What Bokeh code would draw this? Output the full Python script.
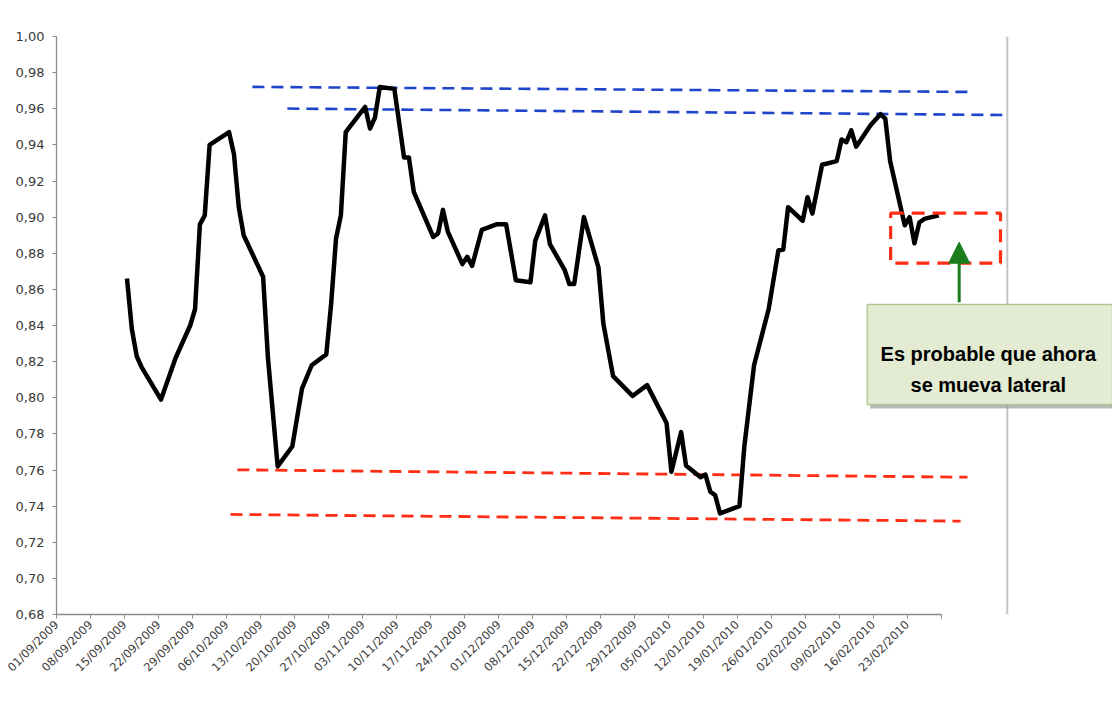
import math
import pandas as pd
from bokeh.plotting import figure
from bokeh.models import Range1d, FixedTicker, CustomJSTickFormatter, Span, Arrow, NormalHead, Label
from bokeh.embed import file_html
from bokeh.resources import INLINE

# ---------------- data ----------------
dates = [
    "15/09/2009", "16/09/2009", "17/09/2009", "18/09/2009", "22/09/2009", "25/09/2009",
    "28/09/2009", "29/09/2009", "30/09/2009", "01/10/2009", "02/10/2009", "06/10/2009",
    "07/10/2009", "08/10/2009", "09/10/2009", "13/10/2009", "14/10/2009", "16/10/2009",
    "19/10/2009", "21/10/2009", "23/10/2009", "26/10/2009", "27/10/2009", "28/10/2009",
    "29/10/2009", "30/10/2009", "03/11/2009", "04/11/2009", "05/11/2009", "06/11/2009",
    "09/11/2009", "11/11/2009", "12/11/2009", "13/11/2009", "17/11/2009", "18/11/2009",
    "19/11/2009", "20/11/2009", "23/11/2009", "24/11/2009", "25/11/2009", "27/11/2009",
    "30/11/2009", "02/12/2009", "04/12/2009", "07/12/2009", "08/12/2009", "10/12/2009",
    "11/12/2009", "14/12/2009", "15/12/2009", "16/12/2009", "18/12/2009", "21/12/2009",
    "22/12/2009", "24/12/2009", "28/12/2009", "31/12/2009", "04/01/2010", "05/01/2010",
    "07/01/2010", "08/01/2010", "11/01/2010", "12/01/2010", "13/01/2010", "14/01/2010",
    "15/01/2010", "19/01/2010", "20/01/2010", "22/01/2010", "25/01/2010", "27/01/2010",
    "28/01/2010", "29/01/2010", "01/02/2010", "02/02/2010", "03/02/2010", "05/02/2010",
    "08/02/2010", "09/02/2010", "10/02/2010", "11/02/2010", "12/02/2010", "15/02/2010",
    "17/02/2010", "18/02/2010", "19/02/2010", "22/02/2010", "23/02/2010", "24/02/2010",
    "25/02/2010", "26/02/2010", "01/03/2010",
]
values = [
    0.866, 0.838, 0.823, 0.817, 0.799, 0.822,
    0.840, 0.849, 0.896, 0.901, 0.940, 0.947,
    0.935, 0.9055, 0.890, 0.867, 0.822, 0.762,
    0.773, 0.805, 0.818, 0.824, 0.852, 0.888,
    0.901, 0.947, 0.961, 0.949, 0.955, 0.972,
    0.971, 0.933, 0.933, 0.914, 0.889, 0.891,
    0.904, 0.892, 0.874, 0.878, 0.873, 0.893,
    0.896, 0.896, 0.865, 0.864, 0.887, 0.901,
    0.885, 0.871, 0.863, 0.863, 0.900, 0.872,
    0.841, 0.812, 0.801, 0.807, 0.786, 0.759,
    0.781, 0.7625, 0.756, 0.7575, 0.748, 0.746,
    0.736, 0.740, 0.773, 0.818, 0.849, 0.8815,
    0.882, 0.9055, 0.898, 0.911, 0.902, 0.929,
    0.931, 0.943, 0.9415, 0.948, 0.939, 0.951,
    0.957, 0.9545, 0.931, 0.8955, 0.900, 0.8855,
    0.897, 0.899, 0.901,
]
tick_labels = [
    "01/09/2009", "08/09/2009", "15/09/2009", "22/09/2009", "29/09/2009", "06/10/2009",
    "13/10/2009", "20/10/2009", "27/10/2009", "03/11/2009", "10/11/2009", "17/11/2009",
    "24/11/2009", "01/12/2009", "08/12/2009", "15/12/2009", "22/12/2009", "29/12/2009",
    "05/01/2010", "12/01/2010", "19/01/2010", "26/01/2010", "02/02/2010", "09/02/2010",
    "16/02/2010", "23/02/2010",
]
axis_end_date = "02/03/2010"
y_min, y_max, y_step = 0.68, 1.00, 0.02

# ---------------- helpers ----------------
origin = pd.to_datetime(tick_labels[0], dayfirst=True)


def day(s):
    return (pd.to_datetime(s, dayfirst=True) - origin).days


xs = [day(d) + 0.5 for d in dates]
tick_pos = [day(t) for t in tick_labels] + [day(axis_end_date)]
overrides = {day(t): t for t in tick_labels}
overrides[day(axis_end_date)] = ""
yticks = [round(y_min + i * y_step, 2) for i in range(int(round((y_max - y_min) / y_step)) + 1)]

# ---------------- figure ----------------
W, H = 1112, 700
LEFT, TOP, FRAME_H = 56, 36, 578
px_per_day = (940.7 - 56.0) / day(axis_end_date)
frame_w = W - LEFT
x_end = frame_w / px_per_day
p = figure(width=W, height=H,
           x_range=Range1d(0, x_end),
           y_range=Range1d(y_min, y_max),
           output_backend="svg", toolbar_location=None,
           min_border_left=LEFT, min_border_right=0,
           min_border_top=TOP, min_border_bottom=H - TOP - FRAME_H)
p.outline_line_color = None
p.grid.visible = False
p.background_fill_color = "white"
p.border_fill_color = "white"

axis_col = "#8a8a8a"
lab_col = "#3a3a3a"
p.xaxis.ticker = FixedTicker(ticks=tick_pos)
p.xaxis.major_label_overrides = overrides
p.xaxis.bounds = (0, day(axis_end_date))
p.xaxis.major_label_orientation = math.pi / 4
p.xaxis.minor_tick_line_color = None
p.yaxis.ticker = FixedTicker(ticks=yticks)
p.yaxis.formatter = CustomJSTickFormatter(code="return tick.toFixed(2).replace('.', ',');")
p.yaxis.minor_tick_line_color = None
for ax in (p.xaxis, p.yaxis):
    ax.axis_line_color = axis_col
    ax.axis_line_width = 1.3
    ax.major_tick_line_color = axis_col
    ax.major_tick_in = 0
    ax.major_tick_out = 4
    ax.major_label_text_color = lab_col
    ax.major_label_text_font = "DejaVu Sans"
p.xaxis.major_label_text_font_size = "11.5px"
p.xaxis.major_label_standoff = 4
p.yaxis.major_label_text_font_size = "13px"
p.yaxis.major_label_standoff = 8

# right-hand sheet border line
p.add_layout(Span(location=195.6, dimension="height", line_color="#c4c4c4",
                  line_width=2, level="underlay"))

# support / resistance lines
blue = "#1f44cc"
red = "#ff2d14"
p.line([40.3, 188.4], [0.9721, 0.9693], line_color=blue, line_width=2.6, line_dash="12 7")
p.line([47.5, 195.6], [0.9601, 0.9565], line_color=blue, line_width=2.6, line_dash="12 7")
p.line([37.2, 187.4], [0.7601, 0.7560], line_color=red, line_width=2.8, line_dash="12 7")
p.line([35.8, 186.0], [0.7354, 0.7317], line_color=red, line_width=2.8, line_dash="12 7")

# main series
p.line(xs, values, line_color="black", line_width=4.5, line_join="round")

# dashed red box
p.quad(left=[171.6], right=[194.2], bottom=[0.8745], top=[0.9022],
       fill_alpha=0, line_color=red, line_width=3.2, line_dash="13 8")

# callout
green = "#1b7d1b"
p.quad(left=[167.4], right=[x_end], bottom=[0.7941], top=[0.8500],
       fill_color="#9a9a9a", fill_alpha=0.7, line_color=None)
p.quad(left=[166.8], right=[x_end], bottom=[0.7963], top=[0.8516],
       fill_color="#e3ecd2", line_color="#b4c596", line_width=1.5)
p.add_layout(Arrow(end=NormalHead(size=21, fill_color=green, line_color=green),
                   x_start=185.7, y_start=0.8529, x_end=185.7, y_end=0.8861,
                   line_color=green, line_width=3))
for txt, yy in (("Es probable que ahora", 0.8243), ("se mueva lateral", 0.8068)):
    p.add_layout(Label(x=191.7, y=yy, text=txt, text_align="center",
                       text_baseline="alphabetic", text_font="Liberation Sans",
                       text_font_style="bold", text_font_size="20px",
                       text_color="black"))

open("out.html", "w").write(file_html(p, INLINE))
